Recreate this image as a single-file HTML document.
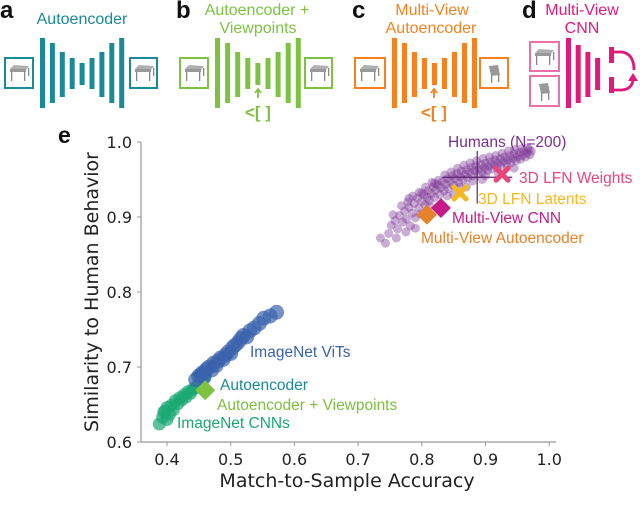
<!DOCTYPE html>
<html><head><meta charset="utf-8"><style>
body{margin:0;background:#fff;}
svg{display:block;font-family:"Liberation Sans",sans-serif;}
</style></head><body>
<svg id="fig" width="640" height="505" viewBox="0 0 640 505">
<g id="top"></g>
<g id="chart"></g>
</svg>
<script>
// ---- chart data ----
const humansX=[0.735,0.748,0.752,0.758,0.762,0.765,0.770,0.773,0.776,0.780,0.782,0.785,0.788,0.790,0.793,0.795,0.798,0.800,0.803,0.805,0.808,0.810,0.812,0.815,0.818,0.820,0.822,0.825,0.828,0.830,0.832,0.835,0.838,0.840,0.842,0.845,0.848,0.850,0.852,0.855,0.858,0.860,0.862,0.865,0.868,0.870,0.872,0.875,0.878,0.880,0.883,0.885,0.888,0.890,0.893,0.895,0.898,0.900,0.903,0.905,0.908,0.910,0.913,0.915,0.918,0.920,0.923,0.925,0.928,0.930,0.933,0.935,0.938,0.940,0.943,0.945,0.948,0.950,0.953,0.955,0.958,0.960,0.963,0.965,0.968,0.970,0.972,0.743,0.760,0.775,0.790,0.810,0.830,0.850,0.870,0.895,0.920,0.945,
0.755,0.768,0.778,0.786,0.796,0.806,0.816,0.826,0.836,0.846,0.856,0.866,0.876,0.886,0.896,0.906,0.916,0.926,0.936,0.946,0.956,0.966,0.800,0.820,0.840,0.860,0.880,0.900,0.780,0.812];
const humansY=[0.872,0.878,0.889,0.895,0.884,0.902,0.893,0.908,0.897,0.913,0.888,0.905,0.918,0.899,0.925,0.912,0.904,0.921,0.930,0.916,0.926,0.935,0.922,0.931,0.940,0.926,0.936,0.943,0.930,0.939,0.947,0.935,0.944,0.951,0.938,0.948,0.955,0.942,0.951,0.958,0.946,0.954,0.961,0.950,0.957,0.963,0.952,0.960,0.966,0.955,0.962,0.968,0.957,0.964,0.970,0.960,0.966,0.972,0.962,0.968,0.974,0.964,0.970,0.976,0.966,0.972,0.978,0.968,0.974,0.980,0.970,0.976,0.982,0.972,0.978,0.984,0.975,0.980,0.986,0.977,0.982,0.988,0.980,0.985,0.990,0.983,0.988,0.865,0.872,0.880,0.885,0.905,0.915,0.930,0.940,0.950,0.958,0.965,
0.903,0.915,0.920,0.928,0.933,0.940,0.946,0.949,0.956,0.960,0.965,0.969,0.972,0.975,0.978,0.980,0.982,0.985,0.988,0.990,0.991,0.992,0.932,0.945,0.928,0.940,0.948,0.955,0.925,0.915];
const vitX=[0.445,0.450,0.455,0.458,0.462,0.466,0.470,0.473,0.477,0.480,0.484,0.488,0.492,0.496,0.500,0.503,0.507,0.512,0.516,0.520,0.525,0.530,0.537,0.545,0.552,0.562,0.572];
const vitY=[0.683,0.688,0.692,0.686,0.697,0.700,0.696,0.705,0.702,0.708,0.712,0.710,0.716,0.720,0.718,0.726,0.729,0.733,0.738,0.742,0.740,0.748,0.752,0.758,0.765,0.768,0.773];
const cnnX=[0.388,0.393,0.397,0.400,0.404,0.407,0.410,0.413,0.417,0.420,0.423,0.427,0.430,0.433,0.437,0.440,0.444,0.448,0.452,0.456,0.460,0.400,0.395];
const cnnY=[0.624,0.633,0.641,0.646,0.637,0.649,0.643,0.655,0.651,0.659,0.656,0.663,0.660,0.667,0.665,0.670,0.672,0.676,0.680,0.684,0.688,0.630,0.640];
const modelNames=["Autoencoder","Autoencoder + Viewpoints","Multi-View Autoencoder","Multi-View CNN","3D LFN Latents","3D LFN Weights"];
const modelX=[0.455,0.460,0.808,0.830,0.860,0.926];
const modelY=[0.690,0.669,0.903,0.912,0.932,0.957];
const humanMeanX=0.887, humanMeanY=0.953, humanErrX=0.055, humanErrY=0.035;
const xTicks=[0.4,0.5,0.6,0.7,0.8,0.9,1.0];
const yTicks=[0.6,0.7,0.8,0.9,1.0];

const NS="http://www.w3.org/2000/svg";
function mk(parent,tag,attrs,text){const e=document.createElementNS(NS,tag);for(const k in attrs)e.setAttribute(k,attrs[k]);if(text!==undefined)e.textContent=text;parent.appendChild(e);return e;}
const sx=v=>167+(v-0.4)*637;
const sy=v=>142+(1.0-v)*750;

const ch=document.getElementById('chart');
let e=mk(ch,'line',{x1:141,y1:142,x2:141,y2:442,stroke:'#999','stroke-width':1.2});


e=mk(ch,'line',{x1:141,y1:442,x2:556,y2:442,stroke:'#999','stroke-width':1.2});


xTicks.forEach(t=>{
  mk(ch,'line',{x1:sx(t),y1:442,x2:sx(t),y2:446,stroke:'#999'});
  const l=mk(ch,'text',{x:sx(t),y:465,'text-anchor':'middle','font-size':16,'font-family':'DejaVu Sans, sans-serif',fill:'#222'},t.toFixed(1));
  
  
});
yTicks.forEach(t=>{
  mk(ch,'line',{x1:137,y1:sy(t),x2:141,y2:sy(t),stroke:'#999'});
  const l=mk(ch,'text',{x:132,y:sy(t)+6,'text-anchor':'end','font-size':16,'font-family':'DejaVu Sans, sans-serif',fill:'#222'},t.toFixed(1));
  
  
});
e=mk(ch,'text',{x:347,y:487,'text-anchor':'middle','font-size':19,'font-family':'DejaVu Sans, sans-serif',fill:'#222'},'Match-to-Sample Accuracy');


e=mk(ch,'text',{x:0,y:0,'text-anchor':'middle','font-size':19,'font-family':'DejaVu Sans, sans-serif',fill:'#222',transform:'translate(98,292) rotate(-90)'},'Similarity to Human Behavior');


e=mk(ch,'text',{x:58,y:143,'font-size':23,'font-weight':'bold',fill:'#111'},'e');



humansX.forEach((x,i)=>{const c=mk(ch,'circle',{cx:sx(x),cy:sy(humansY[i]),r:4.5,fill:'#7b3294','fill-opacity':0.4});

});
e=mk(ch,'line',{x1:sx(humanMeanX-humanErrX),y1:sy(humanMeanY),x2:sx(humanMeanX+humanErrX),y2:sy(humanMeanY),stroke:'#5a2570','stroke-width':1.2});


e=mk(ch,'line',{x1:sx(humanMeanX),y1:sy(humanMeanY+humanErrY),x2:sx(humanMeanX),y2:sy(humanMeanY-humanErrY),stroke:'#5a2570','stroke-width':1.2});



const mColors=['#1a8a98','#7dc242','#e6822a','#c51b8a','#f5b820','#e8457a'];
const mShapes=['d','d','d','d','x','x'];
function marker(i){
  const cx=sx(modelX[i]),cy=sy(modelY[i]);let m;
  if(mShapes[i]==='d'){m=mk(ch,'path',{d:`M${cx} ${cy-10}L${cx+10} ${cy}L${cx} ${cy+10}L${cx-10} ${cy}Z`,fill:mColors[i]});}
  else{m=mk(ch,'path',{d:`M${cx-6} ${cy-6}L${cx+6} ${cy+6}M${cx+6} ${cy-6}L${cx-6} ${cy+6}`,stroke:mColors[i],'stroke-width':5,'stroke-linecap':'round'});}
  
  
}
marker(0);
cnnX.forEach((x,i)=>{const c=mk(ch,'circle',{cx:sx(x),cy:sy(cnnY[i]),r:6.5,fill:'#1aa873','fill-opacity':0.7});

});
vitX.forEach((x,i)=>{const c=mk(ch,'circle',{cx:sx(x),cy:sy(vitY[i]),r:7.5,fill:'#3a63ad','fill-opacity':0.7});

});
for(let i=1;i<modelX.length;i++)marker(i);

const labels=[['Humans (N=200)',448,147,'#7b2f8e'],['3D LFN Weights',519,183,'#e8457a'],['3D LFN Latents',478,204,'#f5b820'],['Multi-View CNN',452,223,'#c51b8a'],['Multi-View Autoencoder',421,243,'#e6822a'],['ImageNet ViTs',250,357,'#3a63ad'],['Autoencoder',220,390,'#1a8a98'],['Autoencoder + Viewpoints',217,410,'#7dbe3e'],['ImageNet CNNs',177,428,'#1aa873']];
labels.forEach(l=>{const t=mk(ch,'text',{x:l[1],y:l[2],'font-size':15.5,fill:l[3]},l[0]);

});

// ---- top diagrams ----
const topG=document.getElementById('top');
function box(g,x,y,w,h,col,alt){
  mk(g,'rect',{x:x,y:y,width:w,height:h,fill:'none',stroke:col,'stroke-width':2});
  if(!alt){
    mk(g,'path',{d:`M${x+5} ${y+11}L${x+9} ${y+7}L${x+24} ${y+8}L${x+21} ${y+12}Z`,fill:'#b0b0b0'});
    mk(g,'rect',{x:x+5,y:y+11,width:16,height:3,fill:'#999'});
    mk(g,'rect',{x:x+6,y:y+14,width:1.3,height:9,fill:'#888'});
    mk(g,'rect',{x:x+19,y:y+14,width:1.3,height:9,fill:'#888'});
    mk(g,'rect',{x:x+23,y:y+10,width:1.3,height:8,fill:'#888'});
  } else {
    mk(g,'path',{d:`M${x+9} ${y+8}L${x+18} ${y+7}L${x+20} ${y+17}L${x+11} ${y+18}Z`,fill:'#999'});
    mk(g,'rect',{x:x+11,y:y+18,width:1.3,height:7,fill:'#888'});
    mk(g,'rect',{x:x+18,y:y+17,width:1.3,height:7,fill:'#888'});
  }
}
function panel(ox,col,letter,titles){
  const g=mk(topG,'g',{});
  
  
  mk(g,'text',{x:ox,y:18,'font-size':24,'font-weight':'bold',fill:'#111'},letter);
  titles.forEach(t=>mk(g,'text',{x:t[1],y:t[2],'text-anchor':'middle','font-size':16,fill:col},t[0]));
  return g;
}
const hs=[[38,108],[43,103],[52,97],[58,89],[63,85],[58,89],[52,97],[43,103],[38,108]];
function coder(g,x0,col,step){hs.forEach((h,i)=>mk(g,'rect',{x:x0+i*step,y:h[0],width:5,height:h[1]-h[0],fill:col}));}
function ctx(g,cx,col){
  mk(g,'path',{d:`M${cx} 98L${cx} 91M${cx-3} 93L${cx} 89L${cx+3} 93`,stroke:col,'stroke-width':1.8,fill:'none'});
  mk(g,'text',{x:cx,y:118,'text-anchor':'middle','font-size':17,'font-weight':'bold',fill:col},'<[ ]');
}
let g=panel(0,'#1a8a98','a',[['Autoencoder',82,24]]);
box(g,5,58,28,30,'#1a8a98');
coder(g,40,'#1a8a98',9.9);
box(g,130,58,27,30,'#1a8a98');
g=panel(176,'#7dc242','b',[['Autoencoder +',257,15],['Viewpoints',258,33]]);
box(g,180,58,28,30,'#7dc242');
coder(g,215,'#7dc242',10.1);
box(g,305,58,27,30,'#7dc242');
ctx(g,258,'#7dc242');
g=panel(352,'#f5821f','c',[['Multi-View',432,15],['Autoencoder',431,33]]);
box(g,355,58,30,30,'#f5821f');
coder(g,392,'#f5821f',10);
box(g,480,58,28,30,'#f5821f',true);
ctx(g,434,'#f5821f');
g=panel(522,'#e0197d','d',[['Multi-View',582,15],['CNN',582,33]]);
box(g,530,42,29,29,'#ea6fab');
box(g,530,76,29,30,'#ea6fab',true);
[[38,108],[45,103],[52,97],[58,90]].forEach((h,i)=>mk(g,'rect',{x:566+i*9.7,y:h[0],width:5,height:h[1]-h[0],fill:'#e0197d'}));
mk(g,'rect',{x:609,y:47,width:5,height:16,fill:'#e0197d'});
mk(g,'rect',{x:609,y:77,width:5,height:16,fill:'#e0197d'});
mk(g,'path',{d:'M614 52L622 52Q634 54 634 70',stroke:'#e0197d','stroke-width':2.8,fill:'none'});
mk(g,'path',{d:'M614 90L622 90Q632 89 633 80',stroke:'#e0197d','stroke-width':2.8,fill:'none'});
mk(g,'path',{d:'M628 81L633 73L638 81Z',fill:'#e0197d'});
</script>
</body></html>
